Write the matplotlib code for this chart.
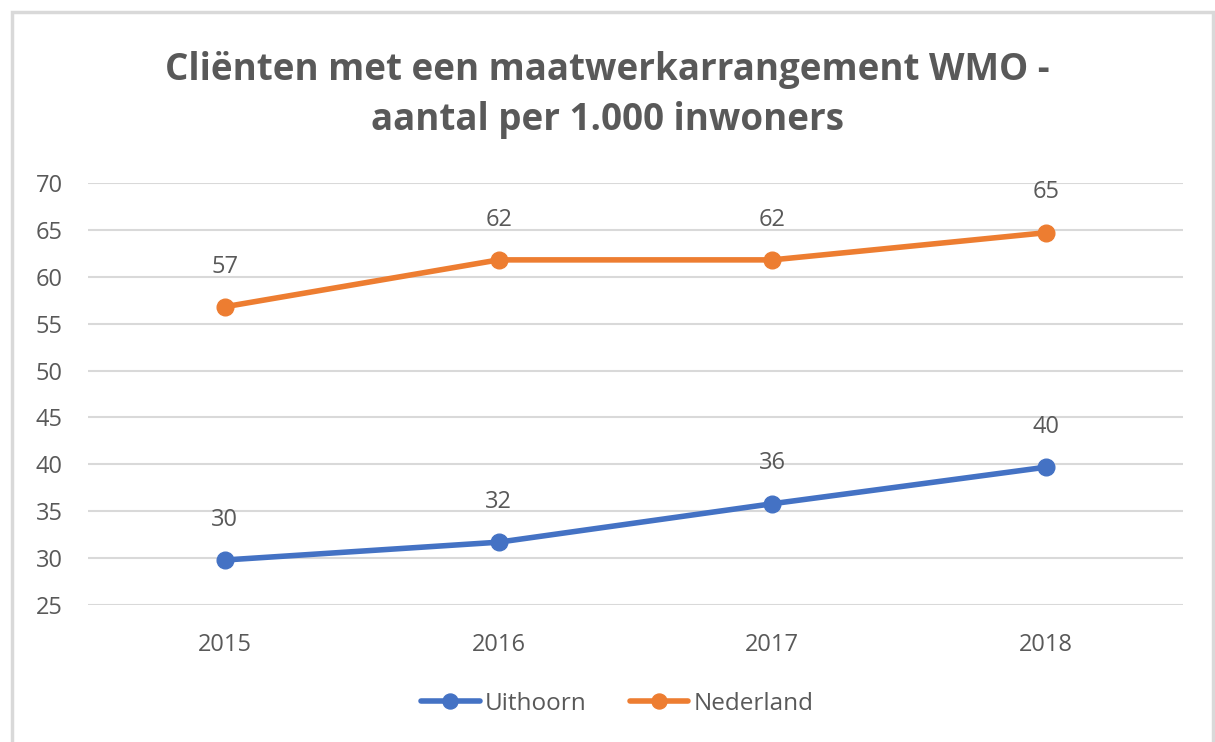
import matplotlib.pyplot as plt
from matplotlib.patches import Rectangle

# data
years = ["2015", "2016", "2017", "2018"]
uithoorn = [29.8, 31.7, 35.8, 39.7]
nederland = [56.8, 61.8, 61.8, 64.7]

BLUE = "#4472C4"
ORANGE = "#ED7D31"
GREY = "#595959"

plt.rcParams["font.family"] = ["Open Sans", "DejaVu Sans"]

fig = plt.figure(figsize=(12.15, 7.42), dpi=100)
ax = fig.add_axes([0.0724, 0.1846, 0.9013, 0.5688])

# chart border
fig.patches.append(Rectangle((12 / 1215, -0.01), 1201 / 1215, 1 - 12 / 742 + 0.01,
                             transform=fig.transFigure, fill=False,
                             edgecolor="#d9d9d9", linewidth=2.5))

x = range(len(years))
ax.plot(x, uithoorn, color=BLUE, lw=4, marker="o", ms=12, label="Uithoorn",
        solid_capstyle="round", zorder=3)
ax.plot(x, nederland, color=ORANGE, lw=4, marker="o", ms=12, label="Nederland",
        solid_capstyle="round", zorder=3)

for xi, v in zip(x, uithoorn):
    ax.annotate("%.0f" % v, (xi, v), xytext=(0, 29), textcoords="offset points",
                ha="center", va="center", fontsize=17, color=GREY)
for xi, v in zip(x, nederland):
    ax.annotate("%.0f" % v, (xi, v), xytext=(0, 29), textcoords="offset points",
                ha="center", va="center", fontsize=17, color=GREY)

ax.set_xlim(-0.5, 3.5)
ax.set_ylim(25, 70)
ax.set_yticks(range(25, 71, 5))
ax.set_xticks(list(x))
ax.set_xticklabels(years)
ax.tick_params(length=0, labelsize=17, colors=GREY)
ax.tick_params(axis="x", pad=20)
ax.tick_params(axis="y", pad=18)
ax.grid(axis="y", color="#d9d9d9", lw=1.5)
ax.set_axisbelow(True)
for s in ax.spines.values():
    s.set_visible(False)

fig.text(0.5, 1 - 95 / 742, "Cliënten met een maatwerkarrangement WMO -\naantal per 1.000 inwoners",
         ha="center", va="center", fontsize=26.5, fontweight="bold", color=GREY,
         linespacing=1.4)

leg = fig.legend(loc="center", bbox_to_anchor=(0.508, 1 - 704 / 742), ncol=2,
                 frameon=False, fontsize=17.5, handlelength=2.4, columnspacing=1.8,
                 handletextpad=0.2, markerscale=0.9)
for t in leg.get_texts():
    t.set_color(GREY)

fig.savefig("out.png", dpi=100, facecolor="white")
